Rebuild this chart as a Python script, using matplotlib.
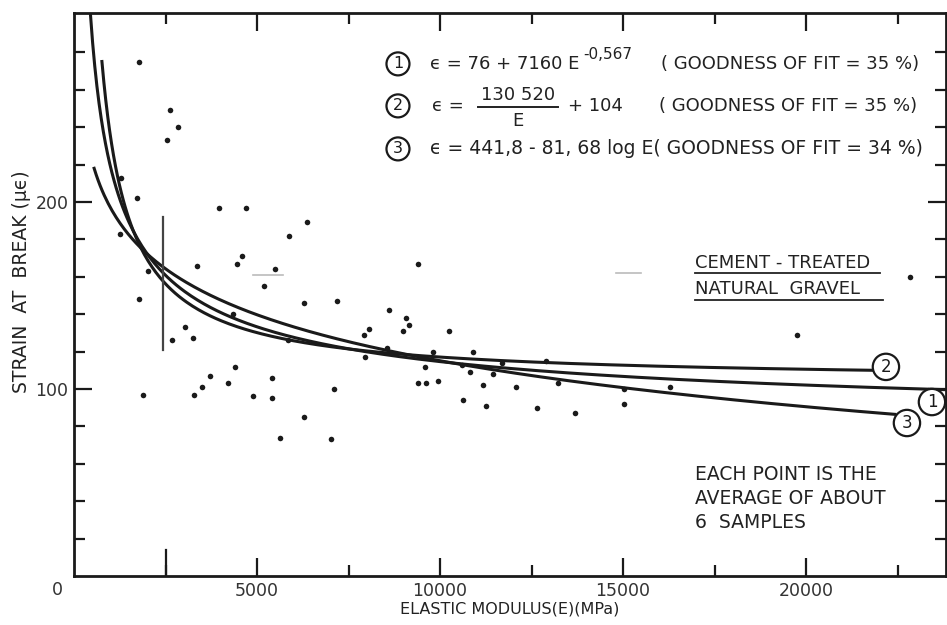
import matplotlib
matplotlib.use("Agg")
import matplotlib.pyplot as plt
import numpy as np

plt.rcParams["font.family"] = ["DejaVu Sans"]
plt.rcParams["mathtext.fontset"] = "dejavusans"

# ---------------- data ----------------
modulus = [1780, 2620, 2840, 2540, 1280, 1720, 3960, 4700, 6370, 5870,
           1260, 4590, 4450, 3360, 5490, 5190, 2020, 1780, 6280, 7190,
           3030, 2680, 3250, 4400, 3720, 3500, 4210, 5410, 1890, 3280,
           4890, 5410, 7100, 6280, 5630, 7020, 9400, 8610, 9070, 9150,
           8990, 8060, 7920, 10250, 7950, 8550, 9810, 10900, 9590, 10820,
           11450, 9400, 9620, 9950, 11180, 10630, 11260, 12900, 12080, 13220,
           12650, 13690, 15030, 15030, 16280, 19750, 22840, 4340, 5850, 11690,
           10600]
strain = [275, 249, 240, 233, 213, 202, 197, 197, 189, 182,
          183, 171, 167, 166, 164, 155, 163, 148, 146, 147,
          133, 126, 127, 112, 107, 101, 103, 106, 97, 97,
          96, 95, 100, 85, 74, 73, 167, 142, 138, 134,
          131, 132, 129, 131, 117, 122, 120, 120, 112, 109,
          108, 103, 103, 104, 102, 94, 91, 115, 101, 103,
          90, 87, 100, 92, 101, 129, 160, 140, 126, 114,
          113]

# fitted equations printed on the chart
fit1_coef = [76.0, 7160.0, -0.567]      # eps = a + b * E^c
fit2_coef = [130520.0, 104.0]           # eps = a / E + b
fit3_coef = [441.8, 81.68]              # eps = a - b log E
fit1_range = [450, 23825]
fit2_range = [763, 21800]
fit3_range = [550, 22430]

x_major = [5000, 10000, 15000, 20000]
x_major_labels = ["5000", "10000", "15000", "20000"]
y_major = [100, 200]
y_major_labels = ["100", "200"]

# ---------------- figure ----------------
W, H = 947, 625
fig = plt.figure(figsize=(W / 100, H / 100), dpi=100)
ax = fig.add_axes([74 / W, 49 / H, 872 / W, 563 / H])
ax.set_xlim(0, 23825)
ax.set_ylim(0, 301)


def ey(py):
    """pixel row -> strain value (for placing annotations)"""
    return (576 - py) / 1.87


def ex(px):
    """pixel column -> modulus value (for placing annotations)"""
    return (px - 74) * 27.32


ink = "#1a1a1a"
for s in ax.spines.values():
    s.set_linewidth(2.0)
    s.set_color(ink)

ax.set_xticks(x_major)
ax.set_xticklabels(x_major_labels)
ax.set_xticks(np.arange(2500, 23825, 5000), minor=True)
ax.set_yticks(y_major)
ax.set_yticklabels(y_major_labels)
ax.set_yticks([v for v in range(20, 300, 20) if v not in y_major], minor=True)
ax.tick_params(which="both", direction="in", top=True, right=True,
               color=ink, width=1.6, labelsize=12.5, labelcolor="#333333")
ax.tick_params(which="major", length=13, pad=4)
ax.tick_params(which="minor", length=8)

# scatter
ax.scatter(modulus, strain, s=16, color=ink, zorder=3, linewidths=0)

# fit curves
e1 = np.linspace(fit1_range[0], fit1_range[1], 400)
ax.plot(e1, fit1_coef[0] + fit1_coef[1] * e1 ** fit1_coef[2], color=ink, lw=2.2, zorder=2)
e2 = np.linspace(fit2_range[0], fit2_range[1], 400)
ax.plot(e2, fit2_coef[0] / e2 + fit2_coef[1], color=ink, lw=2.2, zorder=2)
e3 = np.linspace(fit3_range[0], fit3_range[1], 400)
ax.plot(e3, fit3_coef[0] - fit3_coef[1] * np.log10(e3), color=ink, lw=2.2, zorder=2)

# special marks
ax.plot([2430, 2430], [121, 192], color="#444444", lw=1.6)
ax.plot([2500, 2500], [0, 14], color=ink, lw=1.6)
ax.plot([4900, 5700], [161, 161], color="#bbbbbb", lw=1.2)
ax.plot([14800, 15500], [162, 162], color="#bbbbbb", lw=1.2)

# curve labels
circ = dict(boxstyle="circle,pad=0.25", fc="white", ec=ink, lw=1.6)
for lbl, cx, cy in [("2", 22184, 111.8), ("1", 23441, 93.0), ("3", 22758, 81.8)]:
    ax.text(cx, cy, lbl, ha="center", va="center", fontsize=12, color=ink, bbox=circ, zorder=4)

# equations
tc = "#222222"
fs = 13
r1, r2, r3 = ey(64), ey(106), ey(149)
for lbl, yy in [("1", r1), ("2", r2), ("3", r3)]:
    ax.text(ex(398), yy, lbl, ha="center", va="center", fontsize=11.5, color=ink, bbox=circ)
ax.text(ex(430), r1, "ϵ = 76 + 7160 E", ha="left", va="center", fontsize=fs, color=tc)
ax.text(ex(583), ey(55), "-0,567", ha="left", va="center", fontsize=11, color=tc)
ax.text(ex(661), r1, "( GOODNESS OF FIT = 35 %)", ha="left", va="center", fontsize=fs, color=tc)

ax.text(ex(432), r2, "ϵ =", ha="left", va="center", fontsize=fs, color=tc)
ax.text(ex(518), ey(95), "130 520", ha="center", va="center", fontsize=fs, color=tc)
ax.plot([ex(478), ex(558)], [ey(107), ey(107)], color=tc, lw=1.4)
ax.text(ex(518), ey(121), "E", ha="center", va="center", fontsize=fs, color=tc)
ax.text(ex(568), r2, "+ 104", ha="left", va="center", fontsize=fs, color=tc)
ax.text(ex(659), r2, "( GOODNESS OF FIT = 35 %)", ha="left", va="center", fontsize=fs, color=tc)

ax.text(ex(430), r3, "ϵ = 441,8 - 81, 68 log E( GOODNESS OF FIT = 34 %)", ha="left",
        va="center", fontsize=13.5, color=tc)

# annotations
afs = 13
ax.text(ex(695), ey(263), "CEMENT - TREATED", ha="left", va="center", fontsize=afs, color=tc)
ax.plot([ex(695), ex(880)], [ey(273), ey(273)], color=tc, lw=1.3)
ax.text(ex(695), ey(289), "NATURAL  GRAVEL", ha="left", va="center", fontsize=afs, color=tc)
ax.plot([ex(695), ex(883)], [ey(300), ey(300)], color=tc, lw=1.3)

ax.text(ex(695), ey(475), "EACH POINT IS THE", ha="left", va="center", fontsize=13.5, color=tc)
ax.text(ex(695), ey(499), "AVERAGE OF ABOUT", ha="left", va="center", fontsize=13.5, color=tc)
ax.text(ex(695), ey(523), "6  SAMPLES", ha="left", va="center", fontsize=13.5, color=tc)

# axis labels
fig.text(22 / W, 1 - 282 / H, "STRAIN  AT  BREAK (μϵ)", rotation=90, ha="center", va="center",
         fontsize=13.5, color=tc)
fig.text(510 / W, 1 - 609 / H, "ELASTIC MODULUS(E)(MPa)", ha="center", va="center",
         fontsize=11.5, color=tc)
fig.text(57 / W, 1 - 590 / H, "0", ha="center", va="center", fontsize=12.5, color="#333333")

fig.savefig("out.png", dpi=100)
